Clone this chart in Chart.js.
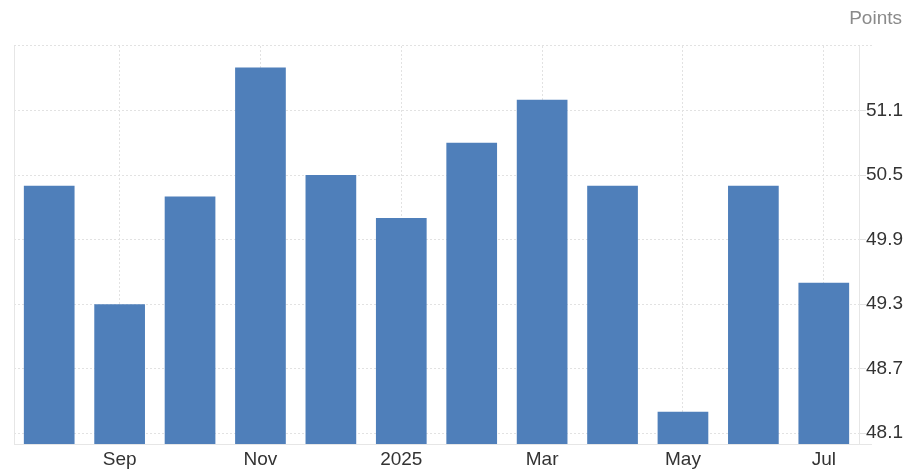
<!DOCTYPE html>
<html>
<head>
<meta charset="utf-8">
<script src="https://cdn.jsdelivr.net/npm/chart.js@4.4.1/dist/chart.umd.min.js"></script>
<style>
  html, body { margin: 0; padding: 0; background: #fff; }
  #wrap { width: 914px; height: 474px; position: relative; }
</style>
</head>
<body>
<div id="wrap"><canvas id="pmiChart"></canvas></div>
<script>
// monthly readings, Aug 2024 - Jul 2025
const months = ['Aug', 'Sep', 'Oct', 'Nov', 'Dec', '2025', 'Feb', 'Mar', 'Apr', 'May', 'Jun', 'Jul'];
const values = [50.4, 49.3, 50.3, 51.5, 50.5, 50.1, 50.8, 51.2, 50.4, 48.3, 50.4, 49.5];
const yTicks = [48.1, 48.7, 49.3, 49.9, 50.5, 51.1];
const yMin = 48.0;
const yMax = 51.7;
const unitLabel = 'Points';

const gridColor = '#e2e2e2';
const lineColor = '#e6e6e6';
const fontFamily = '"Liberation Sans", Arial, sans-serif';

// frame lines + unit label
const framePlugin = {
  id: 'frame',
  beforeDatasetsDraw(chart) {
    const { ctx, chartArea } = chart;
    ctx.save();
    // top dotted line
    ctx.strokeStyle = gridColor;
    ctx.lineWidth = 1;
    ctx.setLineDash([2, 2]);
    ctx.beginPath();
    ctx.moveTo(chartArea.left, chartArea.top - 0.5);
    ctx.lineTo(chartArea.right + 13, chartArea.top - 0.5);
    ctx.stroke();
    // left and bottom solid lines
    ctx.setLineDash([]);
    ctx.strokeStyle = lineColor;
    ctx.beginPath();
    ctx.moveTo(chartArea.left + 0.5, chartArea.top);
    ctx.lineTo(chartArea.left + 0.5, chartArea.bottom);
    ctx.moveTo(chartArea.left, chartArea.bottom + 0.5);
    ctx.lineTo(chartArea.right + 13, chartArea.bottom + 0.5);
    ctx.stroke();
    ctx.restore();
  },
  afterDraw(chart) {
    const { ctx } = chart;
    ctx.save();
    ctx.font = '19px ' + fontFamily;
    ctx.fillStyle = '#8a8a8a';
    ctx.textAlign = 'right';
    ctx.textBaseline = 'alphabetic';
    ctx.fillText(unitLabel, 902, 24);
    ctx.restore();
  }
};

new Chart(document.getElementById('pmiChart'), {
  type: 'bar',
  data: {
    labels: months,
    datasets: [{
      data: values,
      backgroundColor: '#4f7fba',
      borderWidth: 0,
      barPercentage: 0.72,
      categoryPercentage: 1
    }]
  },
  options: {
    responsive: true,
    maintainAspectRatio: false,
    animation: false,
    layout: { padding: { top: 46, left: 14, right: 0, bottom: 0 } },
    plugins: {
      legend: { display: false },
      tooltip: { enabled: false }
    },
    scales: {
      x: {
        offset: true,
        afterBuildTicks: (axis) => {
          // label every other month
          axis.ticks = axis.ticks.filter(t => t.value % 2 === 1);
        },
        afterFit: (axis) => { axis.height = 30; },
        grid: {
          offset: false,
          color: gridColor,
          drawTicks: false
        },
        border: { display: false, dash: [2, 2] },
        ticks: {
          autoSkip: false,
          maxRotation: 0,
          padding: 4,
          color: '#333',
          font: { family: fontFamily, size: 19 }
        }
      },
      y: {
        position: 'right',
        min: yMin,
        max: yMax,
        afterBuildTicks: (axis) => {
          axis.ticks = yTicks.map(v => ({ value: v }));
        },
        afterFit: (axis) => { axis.width = 55; },
        grid: {
          color: gridColor,
          tickLength: 7,
          tickColor: gridColor
        },
        border: { display: true, color: lineColor, dash: [2, 2] },
        ticks: {
          padding: 0,
          color: '#333',
          callback: (v) => v.toFixed(1),
          font: { family: fontFamily, size: 19 }
        }
      }
    }
  },
  plugins: [framePlugin]
});
</script>
</body>
</html>
